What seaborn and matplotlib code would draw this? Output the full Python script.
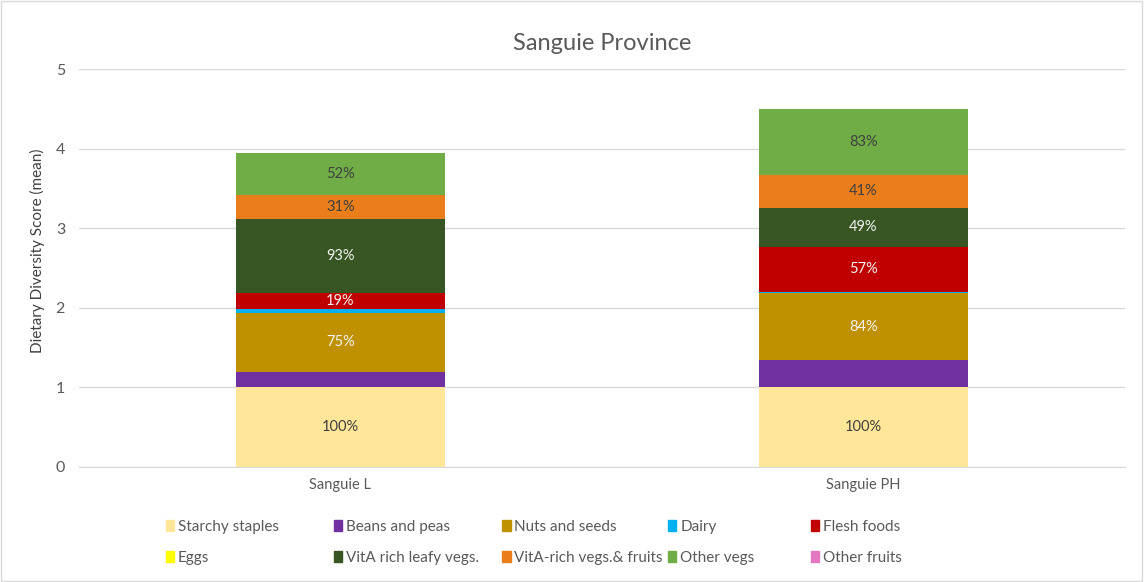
import matplotlib
matplotlib.use("Agg")
import matplotlib.pyplot as plt
import matplotlib.patches as mpatches
import seaborn as sns
import numpy as np

# data
groups = ["Sanguie L", "Sanguie PH"]
food_groups = ["Starchy staples", "Beans and peas", "Nuts and seeds", "Dairy", "Flesh foods",
               "Eggs", "VitA rich leafy vegs.", "VitA-rich vegs.& fruits", "Other vegs", "Other fruits"]
starchy = [1.00, 1.00]
beans = [0.19, 0.34]
nuts = [0.75, 0.84]
dairy = [0.05, 0.02]
flesh = [0.19, 0.57]
eggs = [0.0, 0.0]
leafy = [0.93, 0.49]
vita = [0.31, 0.41]
other_vegs = [0.52, 0.83]
other_fruits = [0.0, 0.0]

series = [starchy, beans, nuts, dairy, flesh, eggs, leafy, vita, other_vegs, other_fruits]
colors = ["#FFE699", "#7030A0", "#BF9000", "#00B0F0", "#C00000",
          "#FFFF00", "#375623", "#E97E1A", "#70AD47", "#E377C2"]
# which series carry a data label, and its text colour
label_color = {0: "#404040", 2: "#F2F2F2", 4: "#F2F2F2", 6: "#F2F2F2", 7: "#404040", 8: "#404040"}

sns.set_style("white")
plt.rcParams["font.family"] = ["Lato", "DejaVu Sans"]
txt = "#595959"

fig = plt.figure(figsize=(11.44, 5.82), dpi=100)
ax = fig.add_axes([0.069, 0.1976, 0.914, 0.6838])

bottom = np.zeros(len(groups))
for i, vals in enumerate(series):
    vals = np.array(vals)
    sns.barplot(x=groups, y=vals, bottom=bottom, color=colors[i], width=0.4,
                saturation=1, ax=ax, linewidth=0)
    if i in label_color:
        for j, v in enumerate(vals):
            ax.text(j, bottom[j] + v / 2, f"{v:.0%}", ha="center", va="center",
                    fontsize=10.5, color=label_color[i])
    bottom += vals

ax.set_ylim(0, 5)
ax.set_xlim(-0.5, 1.5)
ax.set_yticks(range(6))
ax.yaxis.grid(True, color="#D9D9D9", linewidth=1)
ax.set_axisbelow(True)
for s in ax.spines.values():
    s.set_visible(False)
ax.spines["bottom"].set_visible(True)
ax.spines["bottom"].set_color("#D9D9D9")
ax.tick_params(axis="both", length=0, labelsize=10.5, colors=txt, pad=8)
ax.tick_params(axis="y", labelsize=11.5, pad=10)
ax.set_ylabel("Dietary Diversity Score (mean)", fontsize=11, color="#404040")
ax.yaxis.set_label_coords(-0.032, 0.543)
ax.set_xlabel("")
ax.set_title("Sanguie Province", fontsize=17, color=txt, pad=14)

# legend: two rows, columns placed like the original
col_x = [0.145, 0.292, 0.439, 0.584, 0.709]
for k, x in enumerate(col_x):
    idx = [k, k + 5]
    handles = [mpatches.Patch(color=colors[i], label=food_groups[i]) for i in idx]
    fig.legend(handles=handles, loc="upper left", bbox_to_anchor=(x, 0.107),
               frameon=False, fontsize=11, labelcolor=txt, handlelength=0.55,
               handleheight=0.75, handletextpad=0.25, labelspacing=1.1,
               borderaxespad=0, borderpad=0)

fig.patches.append(mpatches.Rectangle((0.001, 0.002), 0.997, 0.996, transform=fig.transFigure,
                                      fill=False, edgecolor="#D9D9D9", linewidth=1))

fig.savefig("out.png", dpi=100)
